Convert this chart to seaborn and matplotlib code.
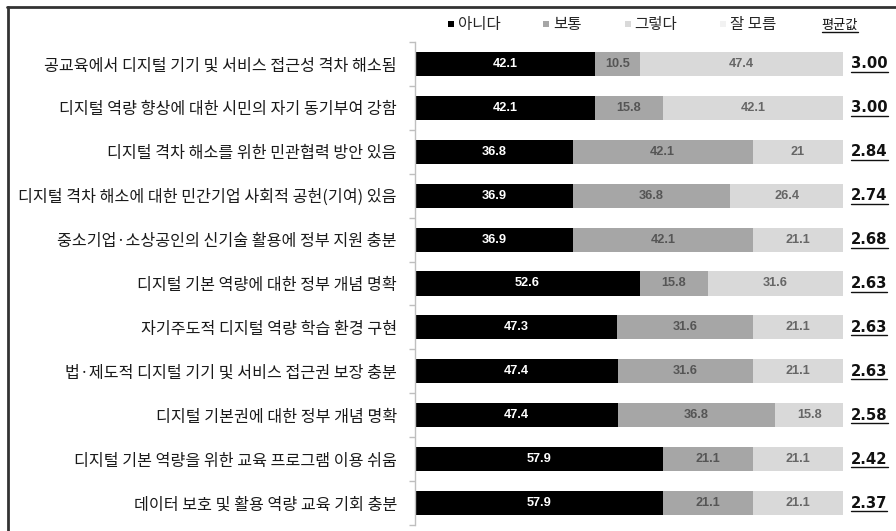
import matplotlib
matplotlib.use("Agg")
import matplotlib.pyplot as plt
from matplotlib.lines import Line2D
import numpy as np
import pandas as pd
import seaborn as sns

categories = [
    "공교육에서 디지털 기기 및 서비스 접근성 격차 해소됨",
    "디지털 역량 향상에 대한 시민의 자기 동기부여 강함",
    "디지털 격차 해소를 위한 민관협력 방안 있음",
    "디지털 격차 해소에 대한 민간기업 사회적 공헌(기여) 있음",
    "중소기업·소상공인의 신기술 활용에 정부 지원 충분",
    "디지털 기본 역량에 대한 정부 개념 명확",
    "자기주도적 디지털 역량 학습 환경 구현",
    "법·제도적 디지털 기기 및 서비스 접근권 보장 충분",
    "디지털 기본권에 대한 정부 개념 명확",
    "디지털 기본 역량을 위한 교육 프로그램 이용 쉬움",
    "데이터 보호 및 활용 역량 교육 기회 충분",
]
series_names = ["아니다", "보통", "그렇다", "잘 모름"]
no_vals = [42.1, 42.1, 36.8, 36.9, 36.9, 52.6, 47.3, 47.4, 47.4, 57.9, 57.9]
neutral_vals = [10.5, 15.8, 42.1, 36.8, 42.1, 15.8, 31.6, 31.6, 36.8, 21.1, 21.1]
yes_vals = [47.4, 42.1, 21, 26.4, 21.1, 31.6, 21.1, 21.1, 15.8, 21.1, 21.1]
unknown_vals = [0, 0, 0, 0, 0, 0, 0, 0, 0, 0, 0]
averages = [3.00, 3.00, 2.84, 2.74, 2.68, 2.63, 2.63, 2.63, 2.58, 2.42, 2.37]
avg_title = "평균값"

colors = ["#000000", "#a6a6a6", "#d9d9d9", "#f2f2f2"]
text_colors = ["#ffffff", "#555555", "#666666", "#666666"]

sns.set_theme(style="white")
plt.rcParams["font.family"] = ["Noto Sans CJK KR", "DejaVu Sans"]

series = [no_vals, neutral_vals, yes_vals, unknown_vals]
df = pd.DataFrame({"category": categories})
for name, vals in zip(series_names, series):
    df[name] = vals
cum = df[series_names].cumsum(axis=1)

fig = plt.figure(figsize=(8.96, 5.31), dpi=100)
W, H = 896, 531
ax = fig.add_axes([415 / W, 1 - 525 / H, 428 / W, 483 / H])

# stacked bars: draw cumulative totals from the outermost segment inwards
for i in range(len(series_names) - 1, -1, -1):
    name = series_names[i]
    sns.barplot(x=cum[name], y=df["category"], order=categories, orient="h",
                color=colors[i], width=0.55, saturation=1, linewidth=0,
                ax=ax)

ax.set_xlim(0, 100)
ax.set_ylim(10.5, -0.5)
ax.set_xlabel("")
ax.set_ylabel("")
ax.set_xticks([])
for s in ["top", "right", "bottom"]:
    ax.spines[s].set_visible(False)
ax.spines["left"].set_color("#bfbfbf")
ax.spines["left"].set_linewidth(1.0)
ax.set_yticks(np.arange(-0.5, len(categories), 1.0), minor=True)
ax.tick_params(axis="y", which="minor", length=4, width=1, color="#bfbfbf",
               direction="out", left=True)
ax.tick_params(axis="y", which="major", length=0, pad=13, labelsize=11.6,
               labelcolor="#1a1a1a")

# segment value labels
for i, name in enumerate(series_names):
    for j, v in enumerate(series[i]):
        if v <= 0:
            continue
        start = cum[name].iloc[j] - v
        ax.text(start + v / 2, j, f"{v:g}", ha="center", va="center",
                fontsize=9.2, fontweight="bold", color=text_colors[i],
                family=["Liberation Sans", "DejaVu Sans"])

# average column
avg_texts = []
for j, a in enumerate(averages):
    t = ax.annotate(f"{a:.2f}", xy=(100, j), xytext=(8, 0),
                    textcoords="offset pixels", ha="left", va="center",
                    fontsize=10.7, fontweight="semibold", color="#111111",
                    family=["DejaVu Sans"],
                    annotation_clip=False)
    avg_texts.append(t)

# legend row
handles = [Line2D([], [], marker="s", linestyle="none", markersize=5,
                  markerfacecolor=c, markeredgewidth=0) for c in colors]
fig.legend(handles, series_names, loc="center", bbox_to_anchor=(610 / W, 1 - 25 / H),
           ncol=4, frameon=False, fontsize=11.2, handletextpad=0.0,
           columnspacing=2.5, handlelength=0.9, borderpad=0)
avg_head = fig.text(840 / W, 1 - 25 / H, avg_title, ha="center", va="center",
                    fontsize=9.5, color="#111111")

# underline the average values and their heading
fig.canvas.draw()
renderer = fig.canvas.get_renderer()
for t in avg_texts + [avg_head]:
    bb = t.get_window_extent(renderer)
    y = bb.y0 - 0.5
    fig.add_artist(Line2D([bb.x0 / W, bb.x1 / W], [y / H, y / H],
                          transform=fig.transFigure, color="#111111", lw=1.0))

# page frame
fig.add_artist(Line2D([7 / W, 1], [1 - 7 / H, 1 - 7 / H], transform=fig.transFigure,
                      color="#333333", lw=2))
fig.add_artist(Line2D([8 / W, 8 / W], [0, 1 - 7 / H], transform=fig.transFigure,
                      color="#333333", lw=2))

fig.savefig("out.png", dpi=100)
